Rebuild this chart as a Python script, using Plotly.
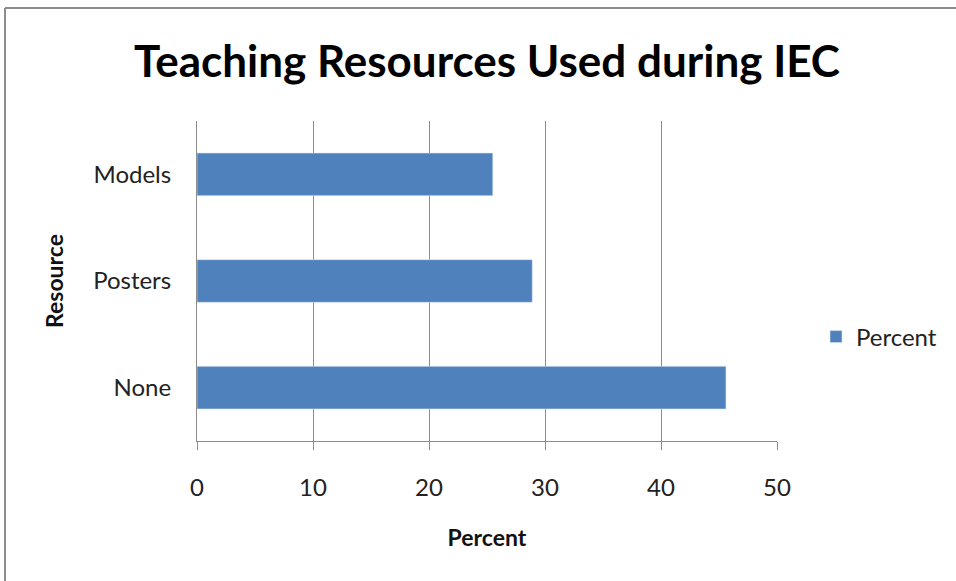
import plotly.graph_objects as go

# Share of sessions by teaching resource used
resources = ["None", "Posters", "Models"]
percent = [45.6, 28.9, 25.5]

x_ticks = [0, 10, 20, 30, 40, 50]

W, H = 956, 581
L, R, T, B = 197, 179, 121, 140

fig = go.Figure()
fig.add_trace(go.Bar(
    x=percent,
    y=resources,
    orientation="h",
    name="Percent",
    marker=dict(color="#4F81BD", line=dict(color="#DCE6F2", width=0.6)),
    showlegend=True,
))

font_family = "Lato, Open Sans, DejaVu Sans, sans-serif"

fig.update_layout(
    width=W,
    height=H,
    margin=dict(l=L, r=R, t=T, b=B, pad=0),
    paper_bgcolor="white",
    plot_bgcolor="white",
    bargap=0.6,
    font=dict(family=font_family, color="#222222"),
    title=dict(
        text="<b>Teaching Resources Used during IEC</b>",
        x=487 / W,
        xanchor="center",
        y=1 - 62 / H,
        yanchor="middle",
        font=dict(size=44, color="black", family=font_family),
    ),
    xaxis=dict(
        range=[0, 50],
        tickvals=x_ticks,
        showgrid=True,
        gridcolor="#8C8C8C",
        gridwidth=1,
        showline=True,
        linecolor="#8C8C8C",
        linewidth=1,
        ticks="outside",
        ticklen=8,
        tickcolor="#8C8C8C",
        tickfont=dict(size=24, color="#222222"),
        ticklabelstandoff=17,
        zeroline=False,
        title=dict(text="<b>Percent</b>", font=dict(size=23, color="#111111"), standoff=30),
    ),
    yaxis=dict(
        showgrid=False,
        showline=True,
        linecolor="#8C8C8C",
        linewidth=1,
        ticks="",
        tickfont=dict(size=24, color="#222222"),
        ticklabelstandoff=20,
        title=dict(text="<b>Resource</b>", font=dict(size=23, color="#111111"), standoff=23),
    ),
    legend=dict(
        x=(816 - L) / (W - L - R),
        xanchor="left",
        y=(H - B - 337) / (H - T - B),
        yanchor="middle",
        font=dict(size=24, color="#222222"),
        bgcolor="rgba(0,0,0,0)",
        itemwidth=30,
    ),
)

# Chart frame: top and left edges
pw, ph = W - L - R, H - T - B
def px_x(v):
    return (v - L) / pw
def px_y(v):
    return (H - B - v) / ph

fig.add_shape(type="line", xref="paper", yref="paper",
              x0=px_x(5), x1=px_x(W + 5), y0=px_y(8), y1=px_y(8),
              line=dict(color="#8C8C8C", width=2))
fig.add_shape(type="line", xref="paper", yref="paper",
              x0=px_x(5), x1=px_x(5), y0=px_y(8), y1=px_y(H + 5),
              line=dict(color="#8C8C8C", width=2))

fig.write_html("out.html")
